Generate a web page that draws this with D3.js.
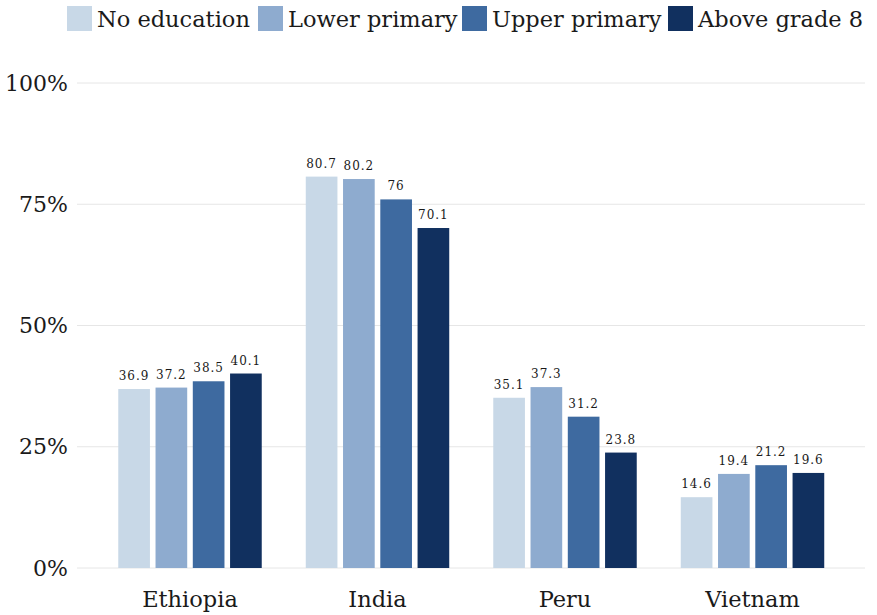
<!DOCTYPE html>
<html>
<head>
<meta charset="utf-8">
<script src="https://cdn.jsdelivr.net/npm/d3@7"></script>
<style>
  body { margin: 0; background: #fff; }
  text { font-family: "DejaVu Serif", serif; fill: #1a1a1a; }
</style>
</head>
<body>
<div id="chart"></div>
<script>
// data
var countries = ["Ethiopia", "India", "Peru", "Vietnam"];
var levels = ["No education", "Lower primary", "Upper primary", "Above grade 8"];
var noEducation  = [36.9, 80.7, 35.1, 14.6];
var lowerPrimary = [37.2, 80.2, 37.3, 19.4];
var upperPrimary = [38.5, 76, 31.2, 21.2];
var aboveGrade8  = [40.1, 70.1, 23.8, 19.6];
var yTicks = [0, 25, 50, 75, 100];
var colors = ["#c8d8e7", "#8eabcf", "#3e6aa0", "#11305f"];

var series = [noEducation, lowerPrimary, upperPrimary, aboveGrade8];
var rows = [];
countries.forEach(function(c, i) {
  levels.forEach(function(l, j) {
    rows.push({country: c, level: l, value: series[j][i]});
  });
});

var width = 877, height = 615;

var svg = d3.select("#chart")
  .append("svg")
  .attr("width", width)
  .attr("height", height);

// scales
var x0 = d3.scaleBand()
  .domain(countries)
  .range([96.25, 846.25])
  .paddingInner(0.205)
  .paddingOuter(0.1025);

var x1 = d3.scaleBand()
  .domain(levels)
  .range([0, x0.bandwidth()])
  .paddingInner(0.15)
  .paddingOuter(0.075);

var y = d3.scaleLinear()
  .domain([0, 100])
  .range([568, 83]);

var color = d3.scaleOrdinal().domain(levels).range(colors);

// grid lines
svg.append("g")
  .selectAll("line")
  .data(yTicks)
  .enter()
  .append("line")
    .attr("x1", 77)
    .attr("x2", 865)
    .attr("y1", function(d) { return y(d); })
    .attr("y2", function(d) { return y(d); })
    .attr("stroke", "#e6e6e6")
    .attr("stroke-width", 1);

// y axis labels
var yAxis = svg.append("g")
  .attr("transform", "translate(72,0)")
  .call(d3.axisLeft(y).tickValues(yTicks).tickSize(0).tickPadding(4)
    .tickFormat(function(d) { return d + "%"; }));
yAxis.select(".domain").remove();
yAxis.selectAll("text")
  .attr("font-size", 22)
  .attr("font-family", "DejaVu Serif")
  .attr("fill", "#1a1a1a");

// x axis labels
var xAxis = svg.append("g")
  .attr("transform", "translate(0,587)")
  .call(d3.axisBottom(x0).tickSize(0).tickPadding(4));
xAxis.select(".domain").remove();
xAxis.selectAll("text")
  .attr("font-size", 22.5)
  .attr("font-family", "DejaVu Serif")
  .attr("fill", "#1a1a1a");

// bars
var bars = svg.append("g")
  .selectAll("g")
  .data(rows)
  .enter()
  .append("g");

bars.append("rect")
  .attr("x", function(d) { return x0(d.country) + x1(d.level); })
  .attr("y", function(d) { return y(d.value); })
  .attr("width", x1.bandwidth())
  .attr("height", function(d) { return y(0) - y(d.value); })
  .attr("fill", function(d) { return color(d.level); });

bars.append("text")
  .attr("x", function(d) { return x0(d.country) + x1(d.level) + x1.bandwidth() / 2; })
  .attr("y", function(d) { return y(d.value) - 9; })
  .attr("text-anchor", "middle")
  .attr("font-size", 12)
  .attr("letter-spacing", 1)
  .text(function(d) { return d.value; });

// legend
var legendX = [67, 258, 462, 668];
var legend = svg.append("g")
  .selectAll("g")
  .data(levels)
  .enter()
  .append("g")
  .attr("transform", function(d, i) { return "translate(" + legendX[i] + ",6)"; });

legend.append("rect")
  .attr("width", 25)
  .attr("height", 25)
  .attr("fill", function(d) { return color(d); });

legend.append("text")
  .attr("x", 30)
  .attr("y", 21)
  .attr("font-size", 22.5)
  .text(function(d) { return d; });
</script>
</body>
</html>
